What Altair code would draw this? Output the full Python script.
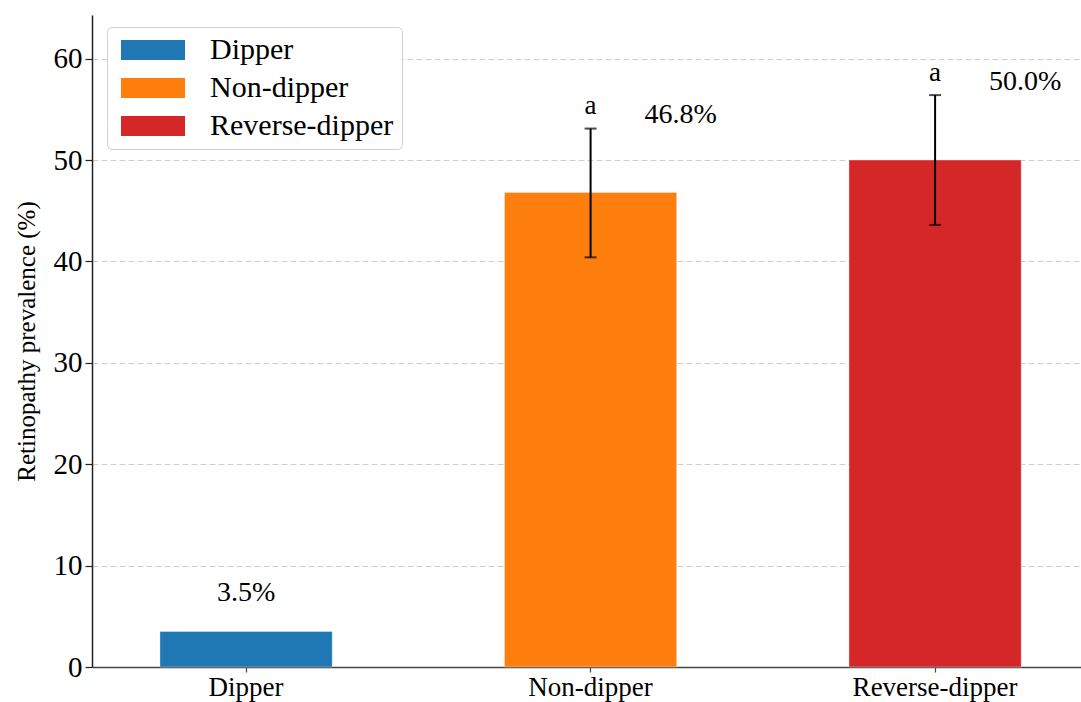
import altair as alt
import pandas as pd

groups = ["Dipper", "Non-dipper", "Reverse-dipper"]
prevalence = [3.5, 46.8, 50.0]
ci_low = [None, 40.4, 43.6]
ci_high = [None, 53.1, 56.4]
sig_letters = ["", "a", "a"]
bar_colors = ["#1f77b4", "#ff7f0e", "#d62728"]
y_ticks = [0, 10, 20, 30, 40, 50, 60]

FONT = "Liberation Serif"
Y_TITLE = "Retinopathy prevalence (%)"

df = pd.DataFrame({
    "group": groups,
    "prev": prevalence,
    "lo": ci_low,
    "hi": ci_high,
    "sig": sig_letters,
})
df["label"] = [f"{v:.1f}%" for v in df["prev"]]
df["has_ci"] = df["hi"].notna()
df["label_y"] = [h + 1.3 if pd.notna(h) else p + 3.8 for p, h in zip(df["prev"], df["hi"])]
df["sig_y"] = [h + 2.2 if pd.notna(h) else None for h in df["hi"]]

x_enc = alt.X(
    "group:N",
    sort=groups,
    scale=alt.Scale(paddingInner=0.5, paddingOuter=0.1854, align=0.532),
    axis=alt.Axis(
        title=None, labelAngle=0, labelFont=FONT, labelFontSize=27,
        labelColor="black", domainColor="#444444", domainWidth=1.5,
        tickColor="#444444", tickSize=5, tickWidth=1.2, labelPadding=2, grid=False,
    ),
)
y_scale = alt.Scale(domain=[0, 64.3], nice=False)
y_axis = alt.Axis(
    title=Y_TITLE, values=y_ticks, labelFont=FONT,
    labelFontSize=29, labelColor="black", titleFont=FONT, titleFontSize=25,
    titleFontWeight="normal", titleColor="black", titlePadding=14,
    domainColor="#222222", domainWidth=1.5, tickColor="#222222", tickSize=7,
    tickWidth=1.2, labelPadding=3, grid=True, gridColor="#cfcfcf",
    gridDash=[6, 3], gridWidth=1,
)

bars = alt.Chart(df).mark_bar(stroke="white", strokeWidth=0.6, strokeOpacity=0.6).encode(
    x=x_enc,
    y=alt.Y("prev:Q", scale=y_scale, axis=y_axis, title=Y_TITLE),
    color=alt.Color(
        "group:N", sort=groups,
        scale=alt.Scale(domain=groups, range=bar_colors),
        legend=alt.Legend(
            title=None, orient="none", legendX=15, legendY=12,
            symbolType="M-3.2,-1H3.2V1H-3.2Z", symbolSize=400, symbolStrokeWidth=0,
            symbolOffset=23, symbolOpacity=1, labelFont=FONT, labelFontSize=30,
            labelColor="black", labelOffset=42, labelLimit=500, rowPadding=8,
            padding=8, fillColor="white", strokeColor="#d0d0d0", cornerRadius=5,
        ),
    ),
)

errs = alt.Chart(df).transform_filter("datum.has_ci").mark_errorbar(
    ticks={"size": 12, "thickness": 2, "color": "black"},
    rule={"strokeWidth": 2, "color": "black"},
    color="black",
).encode(
    x=alt.X("group:N", sort=groups),
    y=alt.Y("lo:Q", scale=y_scale, title=Y_TITLE),
    y2="hi:Q",
)

sig_text = alt.Chart(df).transform_filter("datum.has_ci").mark_text(
    font=FONT, fontSize=27, color="black", baseline="middle", align="center",
).encode(
    x=alt.X("group:N", sort=groups),
    y=alt.Y("sig_y:Q", scale=y_scale, title=Y_TITLE),
    text="sig:N",
)

pct_side = alt.Chart(df).transform_filter("datum.has_ci").mark_text(
    font=FONT, fontSize=28, color="black", baseline="middle", align="center", dx=90,
).encode(
    x=alt.X("group:N", sort=groups),
    y=alt.Y("label_y:Q", scale=y_scale, title=Y_TITLE),
    text="label:N",
)

pct_center = alt.Chart(df).transform_filter("!datum.has_ci").mark_text(
    font=FONT, fontSize=28, color="black", baseline="middle", align="center",
).encode(
    x=alt.X("group:N", sort=groups),
    y=alt.Y("label_y:Q", scale=y_scale, title=Y_TITLE),
    text="label:N",
)

chart = alt.layer(bars, errs, sig_text, pct_side, pct_center).properties(
    width=989,
    height=652,
    autosize=alt.AutoSizeParams(type="none"),
    padding={"left": 92, "top": 15, "right": 0, "bottom": 35},
    background="white",
).configure_view(stroke=None)

chart.save("out.html", embed_options={"renderer": "svg", "actions": False})
